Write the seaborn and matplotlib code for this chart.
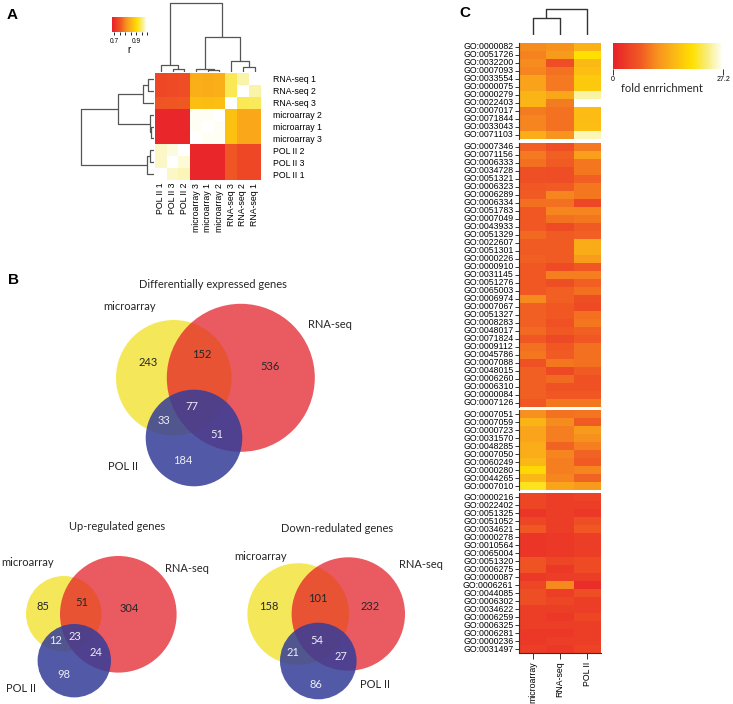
import numpy as np
import pandas as pd
import matplotlib
matplotlib.use('agg')
import matplotlib.pyplot as plt
from matplotlib.colors import LinearSegmentedColormap
from matplotlib.patches import Circle
import seaborn as sns

W, H = 733, 704

# ---------------- panel A: sample correlation ----------------
a_rows = ['RNA-seq 1', 'RNA-seq 2', 'RNA-seq 3', 'microarray 2', 'microarray 1',
          'microarray 3', 'POL II 2', 'POL II 3', 'POL II 1']
a_cols = ['POL II 1', 'POL II 3', 'POL II 2', 'microarray 3', 'microarray 1',
          'microarray 2', 'RNA-seq 3', 'RNA-seq 2', 'RNA-seq 1']
a_corr = [
    [0.735, 0.738, 0.742, 0.846, 0.842, 0.846, 0.940, 0.970, 1.000],
    [0.735, 0.738, 0.742, 0.846, 0.842, 0.846, 0.940, 1.000, 0.970],
    [0.752, 0.755, 0.758, 0.866, 0.864, 0.866, 1.000, 0.940, 0.942],
    [0.690, 0.690, 0.690, 0.995, 0.995, 1.000, 0.870, 0.838, 0.838],
    [0.690, 0.690, 0.690, 0.995, 1.000, 0.995, 0.870, 0.838, 0.838],
    [0.690, 0.690, 0.690, 1.000, 0.995, 0.995, 0.870, 0.838, 0.838],
    [0.980, 0.988, 1.000, 0.690, 0.690, 0.690, 0.754, 0.735, 0.735],
    [0.980, 1.000, 0.985, 0.690, 0.690, 0.690, 0.754, 0.735, 0.735],
    [1.000, 0.980, 0.975, 0.690, 0.690, 0.690, 0.754, 0.735, 0.735],
]
# (height, left, right), leaves are positions in the order above
a_col_tree = (1.0, (0.095, 0, (0.04, 1, 2)),
              (0.5, (0.04, 3, (0.025, 4, 5)), (0.157, 6, (0.07, 7, 8))))
a_row_tree = (1.0, (0.49, (0.15, (0.08, 0, 1), 2), (0.054, 3, (0.03, 4, 5))),
              (0.09, (0.045, 6, 7), 8))

# ---------------- panel B: venn counts ----------------
# order: microarray only, micro&RNA, RNA only, all three, micro&POL, RNA&POL, POL only
de_counts = [243, 152, 536, 77, 33, 51, 184]
up_counts = [85, 51, 304, 23, 12, 24, 98]
down_counts = [158, 101, 232, 54, 21, 27, 86]
venn_names = ['microarray', 'RNA-seq', 'POL II']

# ---------------- panel C: GO fold enrichment ----------------
c_cols = ['microarray', 'RNA-seq', 'POL II']
go_block1 = ['GO:0000082', 'GO:0051726', 'GO:0032200', 'GO:0007093', 'GO:0033554',
             'GO:0000075', 'GO:0000279', 'GO:0022403', 'GO:0007017', 'GO:0071844',
             'GO:0033043', 'GO:0071103']
fe_block1 = [[10.6, 11.2, 14.5], [9.8, 12.0, 19.6], [10.6, 5.4, 15.2], [10.0, 8.7, 16.0],
             [12.8, 9.2, 17.1], [12.9, 9.2, 17.1], [14.7, 13.2, 24.5], [14.8, 9.4, 27.2],
             [9.4, 8.6, 15.6], [10.0, 8.6, 15.6], [10.0, 8.6, 15.8], [14.0, 11.3, 25.0]]
go_block2 = ['GO:0007346', 'GO:0071156', 'GO:0006333', 'GO:0034728', 'GO:0051321',
             'GO:0006323', 'GO:0006289', 'GO:0006334', 'GO:0051783', 'GO:0007049',
             'GO:0043933', 'GO:0051329', 'GO:0022607', 'GO:0051301', 'GO:0000226',
             'GO:0000910', 'GO:0031145', 'GO:0051276', 'GO:0065003', 'GO:0006974',
             'GO:0007067', 'GO:0051327', 'GO:0008283', 'GO:0048017', 'GO:0071824',
             'GO:0009112', 'GO:0045786', 'GO:0007088', 'GO:0048015', 'GO:0006260',
             'GO:0006310', 'GO:0000084', 'GO:0007126']
fe_block2 = [[7.3, 5.6, 9.2], [9.2, 7.3, 12.5], [8.4, 6.8, 9.0], [5.6, 5.4, 9.0],
             [5.6, 5.4, 7.3], [6.5, 6.8, 9.0], [6.8, 10.0, 9.0], [8.4, 8.4, 4.6],
             [6.5, 10.0, 10.0], [6.5, 8.4, 9.0], [6.5, 5.0, 6.8], [8.0, 6.8, 7.3],
             [6.8, 6.8, 13.9], [6.8, 6.8, 13.9], [7.3, 6.8, 12.2], [6.5, 5.0, 6.5],
             [6.5, 9.5, 9.5], [6.5, 5.5, 7.3], [6.5, 7.3, 8.4], [10.5, 7.3, 5.5],
             [7.3, 6.5, 5.0], [7.3, 6.5, 8.4], [7.3, 5.8, 9.0], [8.0, 6.5, 7.3],
             [6.5, 4.8, 6.5], [8.4, 6.5, 8.4], [9.0, 6.8, 8.4], [5.8, 9.0, 8.4],
             [7.3, 4.8, 6.8], [7.3, 8.0, 5.8], [7.3, 5.8, 5.8], [7.3, 6.5, 6.5],
             [6.5, 9.0, 9.0]]
go_block3 = ['GO:0007051', 'GO:0007059', 'GO:0000723', 'GO:0031570', 'GO:0048285',
             'GO:0007050', 'GO:0060249', 'GO:0000280', 'GO:0044265', 'GO:0007010']
fe_block3 = [[10.9, 8.7, 8.9], [14.7, 10.6, 6.8], [13.0, 9.5, 12.0], [13.0, 9.5, 11.0],
             [14.0, 7.5, 9.5], [14.0, 10.0, 7.5], [15.0, 9.5, 6.8], [18.5, 9.5, 10.0],
             [15.0, 10.0, 7.5], [20.5, 13.0, 12.0]]
go_block4 = ['GO:0000216', 'GO:0022402', 'GO:0051325', 'GO:0051052', 'GO:0034621',
             'GO:0000278', 'GO:0010564', 'GO:0065004', 'GO:0051320', 'GO:0006275',
             'GO:0000087', 'GO:0006261', 'GO:0044085', 'GO:0006302', 'GO:0034622',
             'GO:0006259', 'GO:0006325', 'GO:0006281', 'GO:0000236', 'GO:0031497']
fe_block4 = [[4.5, 3.5, 4.0], [4.5, 3.5, 3.5], [2.5, 3.5, 3.0], [4.5, 3.5, 5.5],
             [6.5, 3.5, 6.5], [2.5, 3.0, 3.5], [2.5, 3.0, 3.5], [2.5, 3.0, 3.5],
             [6.0, 4.5, 5.0], [6.0, 3.0, 5.0], [3.0, 3.5, 3.5], [4.5, 10.5, 1.5],
             [5.5, 3.5, 5.5], [5.5, 4.5, 3.5], [3.5, 3.5, 3.5], [3.5, 3.0, 4.5],
             [3.5, 3.5, 3.5], [3.0, 3.0, 3.5], [3.0, 3.5, 3.5], [3.5, 3.0, 4.0]]
c_tree = (1.0, (0.63, 0, 1), 2)

heat = LinearSegmentedColormap.from_list(
    'heat', [(0, '#E8202A'), (0.25, '#F05A23'), (0.4, '#F7901E'), (0.55, '#FBB616'),
             (0.72, '#FFE000'), (0.86, '#F7EE80'), (1.0, '#FFFFFF')])


def px_axes(fig, x0, y0, x1, y1):
    return fig.add_axes([x0 / W, 1 - y1 / H, (x1 - x0) / W, (y1 - y0) / H])


def draw_tree(ax, tree, orient, color='#555555', lw=0.9):
    if isinstance(tree, int):
        return tree + 0.5, 0.0
    h, left, right = tree
    xl, hl = draw_tree(ax, left, orient, color, lw)
    xr, hr = draw_tree(ax, right, orient, color, lw)
    xs, ys = [xl, xl, xr, xr], [hl, h, h, hr]
    if orient == 'top':
        ax.plot(xs, ys, color=color, lw=lw, solid_capstyle='butt')
    else:
        ax.plot(ys, xs, color=color, lw=lw, solid_capstyle='butt')
    return (xl + xr) / 2, h


def draw_venn(ax, counts, circles, num_pos, name_pos, title, title_pos):
    fills = [('#F4E85A', 1.0), ('#E31A24', 0.72), ('#343D99', 0.85)]
    for (cx, cy, r), (fc, al) in zip(circles, fills):
        ax.add_patch(Circle((cx, cy), r, fc=fc, alpha=al, ec='none'))
    for k, (n, (x, y)) in enumerate(zip(counts, num_pos)):
        ax.text(x, y, str(n), ha='center', va='center', fontsize=8,
                color='#EEEEF5' if k >= 3 else '#262626', family='Lato')
    for name, (x, y) in zip(venn_names, name_pos):
        ax.text(x, y, name, ha='center', va='center', fontsize=8, color='#262626', family='Lato')
    ax.text(title_pos[0], title_pos[1], title, ha='center', va='center', fontsize=8,
            color='#262626', family='Lato')


plt.rcParams['font.family'] = ['Liberation Sans', 'DejaVu Sans']
fig = plt.figure(figsize=(W / 100, H / 100), dpi=100)

# background axes in pixel units for venns and panel letters
bg = fig.add_axes([0, 0, 1, 1])
bg.set_xlim(0, W)
bg.set_ylim(H, 0)
bg.axis('off')

for letter, (x, y) in zip('ABC', [(7, 15), (8, 280), (459, 13)]):
    bg.text(x, y, letter, fontsize=11, fontweight='bold', va='center', ha='left')

# ----- panel A -----
dfA = pd.DataFrame(a_corr, index=a_rows, columns=a_cols)
axA = px_axes(fig, 155, 73, 260.5, 180)
caxA = px_axes(fig, 112, 17, 147, 32)
sns.heatmap(dfA, ax=axA, cmap=heat, vmin=0.68, vmax=1.0, cbar_ax=caxA,
            cbar_kws={'orientation': 'horizontal', 'ticks': np.arange(0.7, 1.001, 0.05)},
            xticklabels=a_cols, yticklabels=a_rows)
axA.yaxis.tick_right()
axA.tick_params(axis='y', length=0, pad=9, labelsize=6.3, rotation=0)
axA.tick_params(axis='x', length=0, pad=2, labelsize=6.3, rotation=90)
axA.set_xlabel('')
axA.set_ylabel('')
caxA.set_xticklabels(['0.7', '', '', '', '0.9', '', ''])
caxA.tick_params(axis='x', length=2.5, width=0.6, labelsize=4.8, pad=1.5)
caxA.set_xlabel('r', fontsize=7, labelpad=0)

dA_top = px_axes(fig, 155, 2, 260.5, 71.5)
draw_tree(dA_top, a_col_tree, 'top')
dA_top.set_xlim(0, len(a_cols))
dA_top.set_ylim(0, 1.01)
dA_top.axis('off')

dA_left = px_axes(fig, 80, 73, 153.5, 180)
draw_tree(dA_left, a_row_tree, 'left')
dA_left.set_xlim(1.01, 0)
dA_left.set_ylim(len(a_rows), 0)
dA_left.axis('off')

# ----- panel B -----
draw_venn(bg, de_counts,
          [(173.8, 377.8, 57.8), (240.8, 377.8, 74.0), (194.0, 438.0, 48.3)],
          [(148, 362), (202, 354), (270, 367), (192, 407), (164, 421), (217, 435), (183, 461)],
          [(130, 307), (330, 325), (123, 467)],
          'Differentially expressed genes', (213, 284))
draw_venn(bg, up_counts,
          [(63.8, 613.8, 37.8), (118.3, 614.3, 58.3), (74.3, 660.7, 36.7)],
          [(43, 607), (82, 603), (129, 609), (75, 637), (56, 641), (96, 653), (64, 675)],
          [(28, 562), (187, 569), (21, 688)],
          'Up-regulated genes', (117, 527))
draw_venn(bg, down_counts,
          [(298.2, 614.0, 50.8), (348.3, 614.0, 56.7), (318.3, 661.0, 38.3)],
          [(269, 607), (318, 598), (370, 607), (317, 641), (293, 652), (341, 657), (316, 685)],
          [(261, 556), (421, 564), (375, 684)],
          'Down-redulated genes', (337, 528))

# ----- panel C -----
blocks = [(go_block1, fe_block1), (go_block2, fe_block2),
          (go_block3, fe_block3), (go_block4, fe_block4)]
gaps = [4.0, 3.5, 3.0]
row_h = 8.0
top = 42.7
caxC = px_axes(fig, 612.7, 43.3, 723.3, 69)
for i, (gos, vals) in enumerate(blocks):
    bottom = top + row_h * len(gos)
    ax = px_axes(fig, 519, top, 601, bottom)
    last = i == len(blocks) - 1
    sns.heatmap(pd.DataFrame(vals, index=gos, columns=c_cols), ax=ax, cmap=heat,
                vmin=0, vmax=27.2, cbar=(i == 0), cbar_ax=caxC if i == 0 else None,
                cbar_kws={'orientation': 'horizontal', 'ticks': [0, 27.2]} if i == 0 else {},
                yticklabels=gos, xticklabels=c_cols if last else False)
    ax.spines['left'].set_visible(True)
    ax.spines['left'].set_color('#333333')
    ax.spines['left'].set_linewidth(0.8)
    ax.tick_params(axis='y', length=3, width=0.7, color='#333333', pad=1,
                   labelsize=6.3, rotation=0)
    if last:
        ax.spines['bottom'].set_visible(True)
        ax.spines['bottom'].set_color('#333333')
        ax.spines['bottom'].set_linewidth(0.8)
        ax.tick_params(axis='x', length=4, width=0.7, color='#333333', pad=2,
                       labelsize=6.3, rotation=90)
    ax.set_xlabel('')
    ax.set_ylabel('')
    if i < len(gaps):
        top = bottom + gaps[i]

caxC.set_xticklabels(['0', '27.2'])
caxC.tick_params(axis='x', length=4, width=0.7, color='#333333', labelsize=5, pad=1)
bg.text(662, 89, 'fold enrrichment', ha='center', va='center', fontsize=8,
        family='Lato', color='#262626')

dC = px_axes(fig, 519, 8, 601, 35)
draw_tree(dC, c_tree, 'top', color='#333333', lw=1.0)
dC.set_xlim(0, len(c_cols))
dC.set_ylim(0, 1.02)
dC.axis('off')

fig.savefig('out.png', dpi=100)
